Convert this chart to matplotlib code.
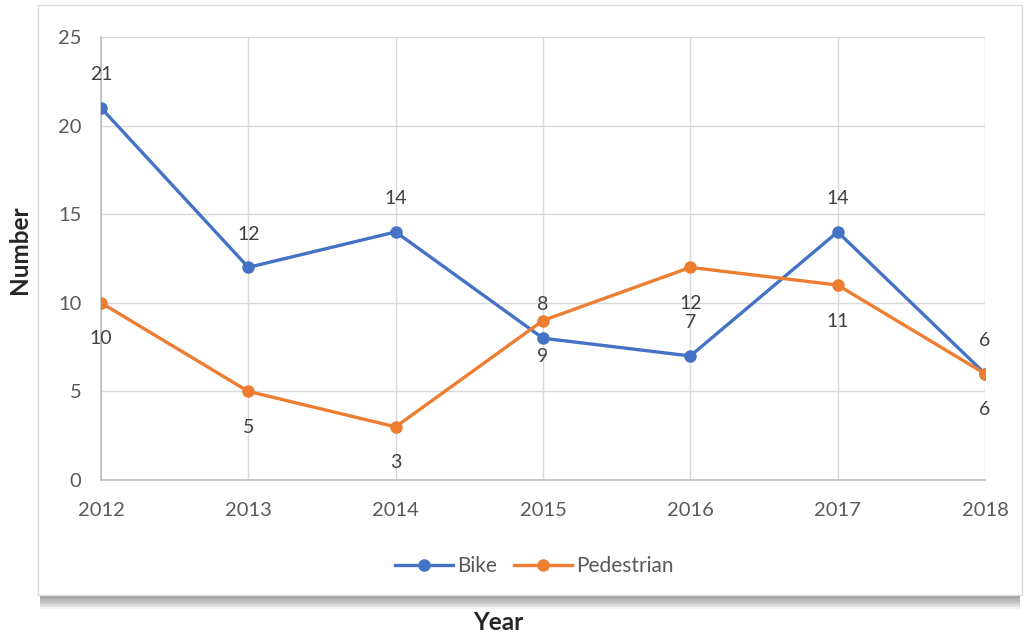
import matplotlib.pyplot as plt
from matplotlib.patches import FancyBboxPatch

years = ['2012', '2013', '2014', '2015', '2016', '2017', '2018']
bike = [21, 12, 14, 8, 7, 14, 6]
pedestrian = [10, 5, 3, 9, 12, 11, 6]

plt.rcParams['font.family'] = ['Lato', 'DejaVu Sans']

fig = plt.figure(figsize=(10.24, 6.36), dpi=100)
W, H = 1024, 636

# card with a soft shadow below it
for i in range(8):
    d = 14 - i * 1.6
    fig.patches.append(FancyBboxPatch((40 / W, (41 - d) / H), 980 / W, 590 / H,
                                      boxstyle='square,pad=0', transform=fig.transFigure,
                                      facecolor='black', edgecolor='none', alpha=0.05, zorder=0))
fig.patches.append(FancyBboxPatch((38 / W, 41 / H), 984 / W, 590 / H,
                                  boxstyle='square,pad=0', transform=fig.transFigure,
                                  facecolor='white', edgecolor='#dcdcdc', lw=1, zorder=1))

ax = fig.add_axes([101 / W, 1 - 480 / H, 884 / W, 443 / H])
ax.set_facecolor('none')
ax.set_zorder(2)

x = range(len(years))
ax.plot(x, bike, color='#4472C4', lw=2.4, marker='o', ms=8, label='Bike', zorder=3)
ax.plot(x, pedestrian, color='#ED7D31', lw=2.4, marker='o', ms=8, label='Pedestrian', zorder=4)

for i, v in enumerate(bike):
    ax.annotate(str(v), (i, v), xytext=(0, 24), textcoords='offset points',
                ha='center', va='center', fontsize=14, color='#404040', zorder=5)
for i, v in enumerate(pedestrian):
    ax.annotate(str(v), (i, v), xytext=(0, -26), textcoords='offset points',
                ha='center', va='center', fontsize=14, color='#404040', zorder=5)

ax.set_xlim(0, len(years) - 1)
ax.set_ylim(0, 25)
ax.set_xticks(list(x))
ax.set_xticklabels(years)
ax.set_yticks([0, 5, 10, 15, 20, 25])
ax.grid(True, color='#d9d9d9', lw=1)
ax.set_axisbelow(True)
for s in ['top', 'right']:
    ax.spines[s].set_visible(False)
for s in ['left', 'bottom']:
    ax.spines[s].set_color('#bfbfbf')
    ax.spines[s].set_linewidth(1.2)
ax.tick_params(length=0, labelsize=14.5, colors='#595959')
ax.tick_params(axis='x', pad=16)
ax.tick_params(axis='y', pad=14)

ax.legend(loc='center', bbox_to_anchor=(0.49, -0.195), ncol=2, frameon=False,
          fontsize=15, labelcolor='#595959', handlelength=2.8, columnspacing=0.8,
          handletextpad=0.2)

fig.text(20 / W, 1 - 250 / H, 'Number', rotation=90, ha='center', va='center',
         fontsize=17.5, fontweight='bold', color='#262626')
fig.text(498 / W, 1 - 622 / H, 'Year', ha='center', va='center',
         fontsize=17.5, fontweight='bold', color='#262626')

fig.savefig('out.png', dpi=100)
